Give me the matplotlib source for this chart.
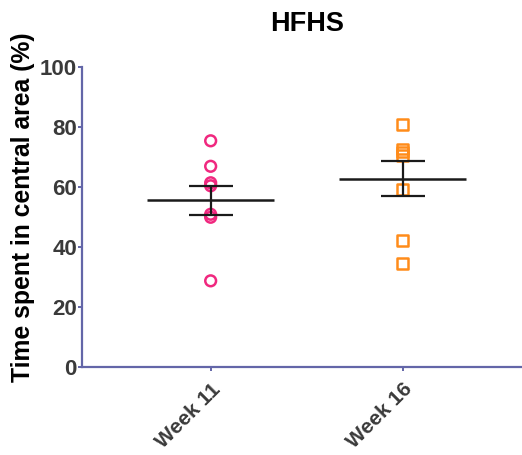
import matplotlib
matplotlib.use("Agg")
import matplotlib.pyplot as plt
import numpy as np

# data
groups = ["Week 11", "Week 16"]
week11 = [75.5, 67.0, 61.5, 60.5, 51.0, 50.0, 28.8]
week16 = [81.0, 72.8, 71.8, 70.6, 59.2, 42.3, 34.6]
means = [55.6, 62.9]
sems = [4.95, 5.8]
yticks = [0, 20, 40, 60, 80, 100]

AXIS = "#6366a8"
TXT = "#3a3a3a"

plt.rcParams["font.family"] = ["Liberation Sans", "DejaVu Sans"]

fig = plt.figure(figsize=(5.22, 4.55), dpi=100)
ax = fig.add_axes([0.158, 0.193, 0.842, 0.659])

ax.scatter([0] * len(week11), week11, s=60, marker="o", facecolors="none",
           edgecolors="#f0287f", linewidths=1.8, zorder=3)
ax.scatter([1] * len(week16), week16, s=60, marker="s", facecolors="none",
           edgecolors="#ff8c1a", linewidths=1.8, zorder=3)

for i, (m, e) in enumerate(zip(means, sems)):
    ax.hlines(m, i - 0.33, i + 0.33, color="#1a1a1a", lw=1.8, zorder=4)
    ax.errorbar(i, m, yerr=e, fmt="none", ecolor="#1a1a1a", elinewidth=1.6,
                capsize=16, capthick=1.6, zorder=4)

ax.set_xlim(-0.667, 1.62)
ax.set_ylim(0, 100)
ax.set_yticks(yticks)
ax.set_xticks([0, 1])
ax.set_xticklabels(groups, rotation=45, ha="right", rotation_mode="anchor",
                   fontsize=15, fontweight="bold")
for lab in ax.get_yticklabels():
    lab.set_fontsize(16)
    lab.set_fontweight("bold")

for side in ["top", "right"]:
    ax.spines[side].set_visible(False)
for side in ["left", "bottom"]:
    ax.spines[side].set_color(AXIS)
    ax.spines[side].set_linewidth(1.6)
ax.tick_params(axis="both", colors=AXIS, labelcolor=TXT, length=3, width=1.4,
               pad=1)
ax.tick_params(axis="x", pad=6)

ax.set_ylabel("Time spent in central area (%)", fontsize=17.8,
              fontweight="bold", color="black")
ax.yaxis.set_label_coords(-0.108, 0.532)
ax.set_title("HFHS", fontsize=19.5, fontweight="bold", color="black", pad=26,
             x=0.512)

fig.savefig("out.png", dpi=100)
